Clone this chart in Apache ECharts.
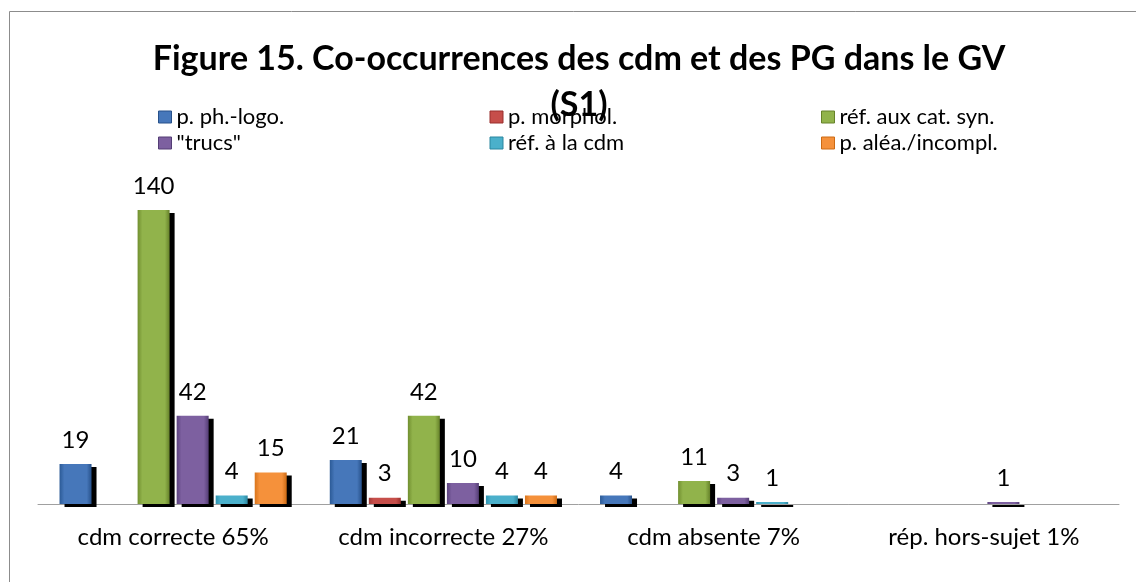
<!DOCTYPE html>
<html>
<head>
<meta charset="utf-8">
<script src="https://cdn.jsdelivr.net/npm/echarts@6/dist/echarts.min.js"></script>
<style>
html,body{margin:0;padding:0;background:#fff;}
#c{width:1136px;height:582px;}
</style>
</head>
<body>
<div id="c"></div>
<script>
const categories = ['cdm correcte 65%', 'cdm incorrecte 27%', 'cdm absente 7%', 'rép. hors-sujet 1%'];
const seriesNames = ['p. ph.-logo.', 'p. morphol.', 'réf. aux cat. syn.', '"trucs"', 'réf. à la cdm', 'p. aléa./incompl.'];
const phLogo   = [19, 21, 4, null];
const morphol  = [null, 3, null, null];
const catSyn   = [140, 42, 11, null];
const trucs    = [42, 10, 3, 1];
const refCdm   = [4, 4, 1, null];
const aleaInc  = [15, 4, null, null];
const seriesValues = [phLogo, morphol, catSyn, trucs, refCdm, aleaInc];
const palette = [
  ['#2B5A96', '#4677BA', '#27518A'],
  ['#A33C39', '#C64E4A', '#992F2C'],
  ['#718F30', '#91B34B', '#66822A'],
  ['#5C4380', '#7D60A0', '#543D75'],
  ['#2F93AF', '#4BB0CB', '#2A869F'],
  ['#D9751C', '#F5913B', '#CC6A14']
];

function grad(c) {
  return new echarts.graphic.LinearGradient(0, 0, 1, 0, [
    {offset: 0, color: c[0]},
    {offset: 0.15, color: c[1]},
    {offset: 0.85, color: c[1]},
    {offset: 1, color: c[2]}
  ]);
}

const chart = echarts.init(document.getElementById('c'), null, {renderer: 'canvas'});
const FONT = 'Lato, "Open Sans", sans-serif';

const series = seriesNames.map((name, i) => ({
  name: name,
  type: 'bar',
  data: seriesValues[i],
  barWidth: 32,
  barGap: '22%',
  itemStyle: {
    color: grad(palette[i]),
    borderWidth: 0,
    shadowColor: '#000',
    shadowBlur: 0,
    shadowOffsetX: 5,
    shadowOffsetY: 3
  },
  label: {
    show: true,
    position: 'top',
    distance: 12,
    color: '#000',
    fontFamily: FONT,
    fontSize: 24
  }
}));

const legendData = seriesNames.map((name, i) => ({
  name: name,
  icon: 'rect',
  itemStyle: {
    color: palette[i][1],
    borderColor: palette[i][2],
    borderWidth: 1,
    shadowBlur: 0,
    shadowOffsetX: 0,
    shadowOffsetY: 0
  }
}));

chart.setOption({
  animation: false,
  backgroundColor: '#fff',
  title: {
    text: 'Figure 15. Co-occurrences des cdm et des PG dans le GV\n(S1)',
    left: 574,
    textAlign: 'center',
    top: 31,
    textStyle: {
      fontFamily: FONT,
      fontWeight: 'bold',
      fontSize: 34,
      lineHeight: 46,
      color: '#000'
    }
  },
  legend: {
    left: 153,
    top: 101,
    width: 1000,
    itemWidth: 13,
    itemHeight: 12,
    itemGap: 4,
    selectedMode: false,
    data: legendData,
    textStyle: {
      fontFamily: FONT,
      fontSize: 22,
      lineHeight: 19,
      width: 309,
      color: '#000'
    }
  },
  grid: {
    left: 38,
    right: 17,
    top: 210,
    bottom: 78
  },
  xAxis: {
    type: 'category',
    data: categories,
    axisLine: {show: true, lineStyle: {color: '#a0a0a0', width: 1}},
    axisTick: {show: false},
    axisLabel: {
      interval: 0,
      color: '#000',
      fontFamily: FONT,
      fontSize: 24,
      margin: 21
    }
  },
  yAxis: {
    type: 'value',
    min: 0,
    max: 140,
    show: false,
    splitLine: {show: false}
  },
  graphic: [{
    type: 'rect',
    shape: {x: 9.5, y: 11.5, width: 1300, height: 800},
    style: {fill: 'none', stroke: '#8c8c8c', lineWidth: 1},
    silent: true,
    z: -1
  }],
  series: series
});
</script>
</body>
</html>
